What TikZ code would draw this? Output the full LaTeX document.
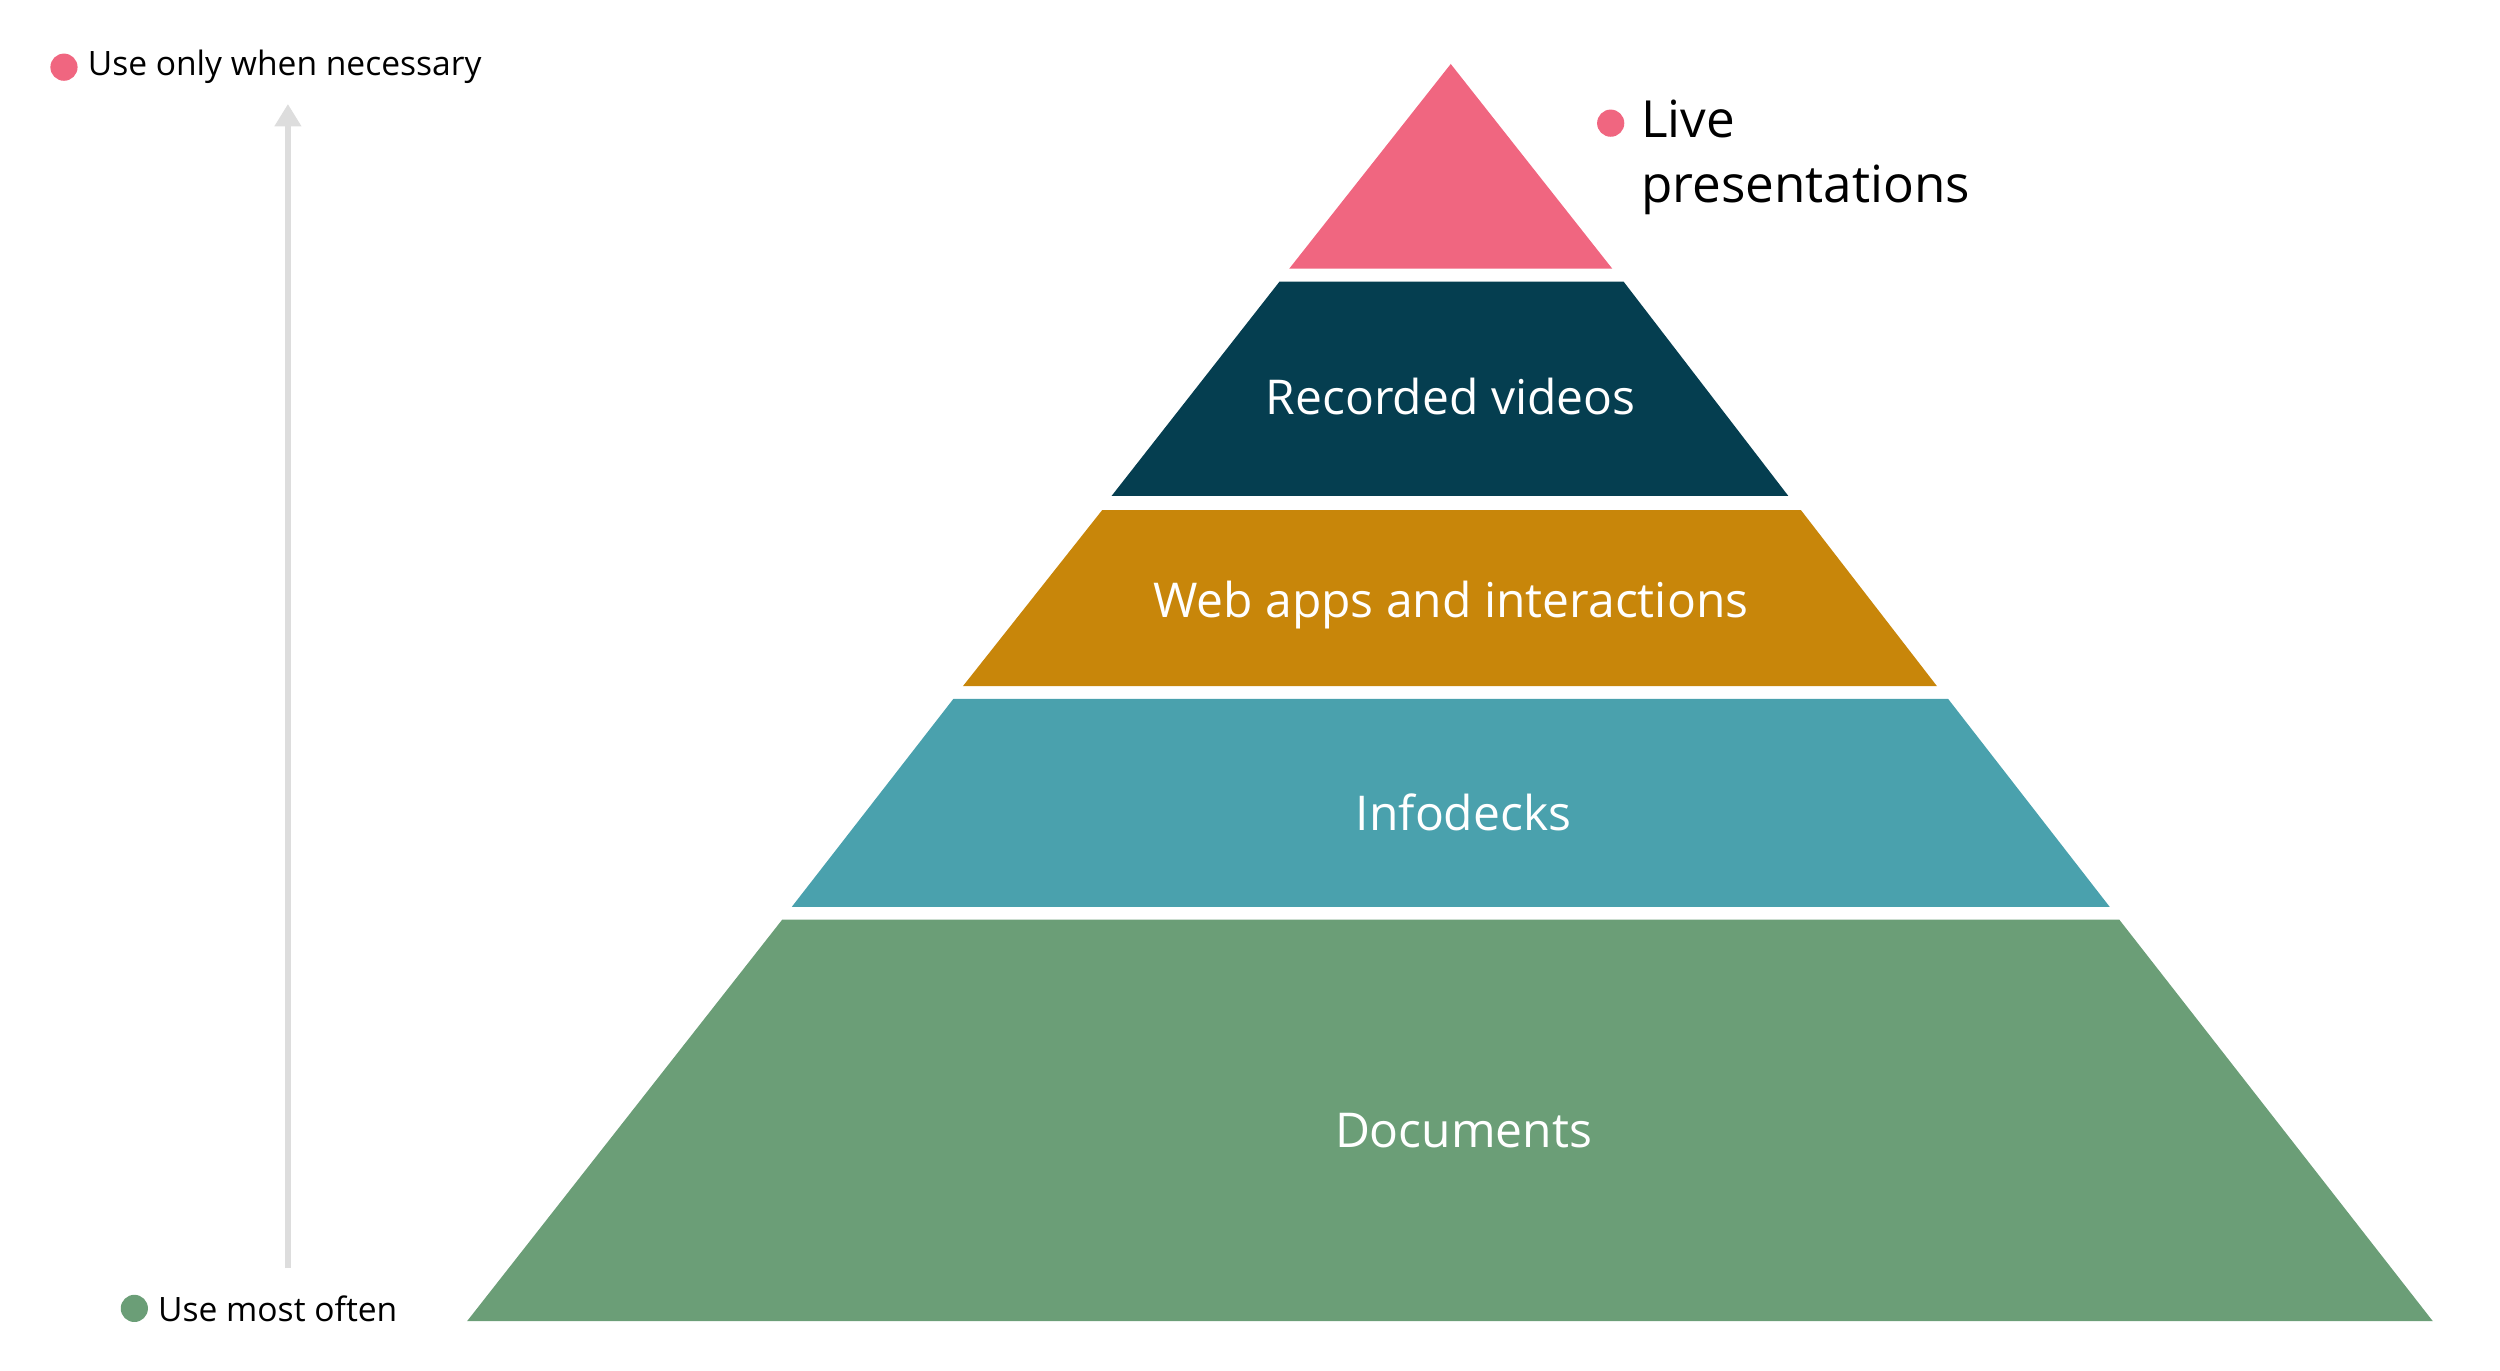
\documentclass[tikz,border=0pt]{standalone}
\usepackage{fontspec}
\setmainfont{Open Sans}
\usetikzlibrary{arrows.meta}
\definecolor{cpink}{HTML}{F06680}
\definecolor{cnavy}{HTML}{053E50}
\definecolor{corange}{HTML}{C8860A}
\definecolor{cteal}{HTML}{4AA1AD}
\definecolor{cgreen}{HTML}{6B9E77}
\definecolor{cgrey}{HTML}{DDDDDD}
\begin{document}
\begin{tikzpicture}[x=1pt,y=-1pt,
  lbl/.style={text=white,font=\fontsize{30}{36}\selectfont},
  side/.style={font=\fontsize{21}{25}\selectfont,anchor=west,inner sep=0pt},
  dot/.style={circle,inner sep=0pt,minimum size=17pt}]
\useasboundingbox (0,0) rectangle (1563,857);
\fill[cpink] (907,40) -- (1008,168) -- (806,168) -- cycle;
\fill[cnavy] (800,176) -- (1015,176) -- (1118,310) -- (695,310) -- cycle;
\fill[corange] (689,319) -- (1126,319) -- (1211,429) -- (602,429) -- cycle;
\fill[cteal] (596,437) -- (1218,437) -- (1319,567) -- (495,567) -- cycle;
\fill[cgreen] (489,575) -- (1325,575) -- (1521,826) -- (292,826) -- cycle;
\node[lbl] (rv) at (907,248) {Recorded videos};
\node[lbl] (wa) at (907,378) {Web apps and interactions};
\node[lbl] (id) at (915,508) {Infodecks};
\node[lbl] (doc) at (915,707) {Documents};
\node[dot,fill=cpink] (d1) at (40,42) {};
\node[side] (t1) at ([xshift=6pt]d1.east) {Use only when necessary};
\node[dot,fill=cgreen] (d2) at (84,818) {};
\node[side] (t2) at ([xshift=6pt]d2.east) {Use most often};
\node[dot,fill=cpink] (d3) at (1007,77) {};
\node[anchor=north west,inner sep=0pt,align=left,font=\fontsize{32}{41}\selectfont] (t3) at (1026,62) {Live\\presentations};
\coordinate (a0) at (180,793);
\coordinate (a1) at (180,65);
\draw[cgrey,line width=4pt,-{Triangle[length=14pt,width=16pt]}] (a0) -- (a1);
\end{tikzpicture}
\end{document}
